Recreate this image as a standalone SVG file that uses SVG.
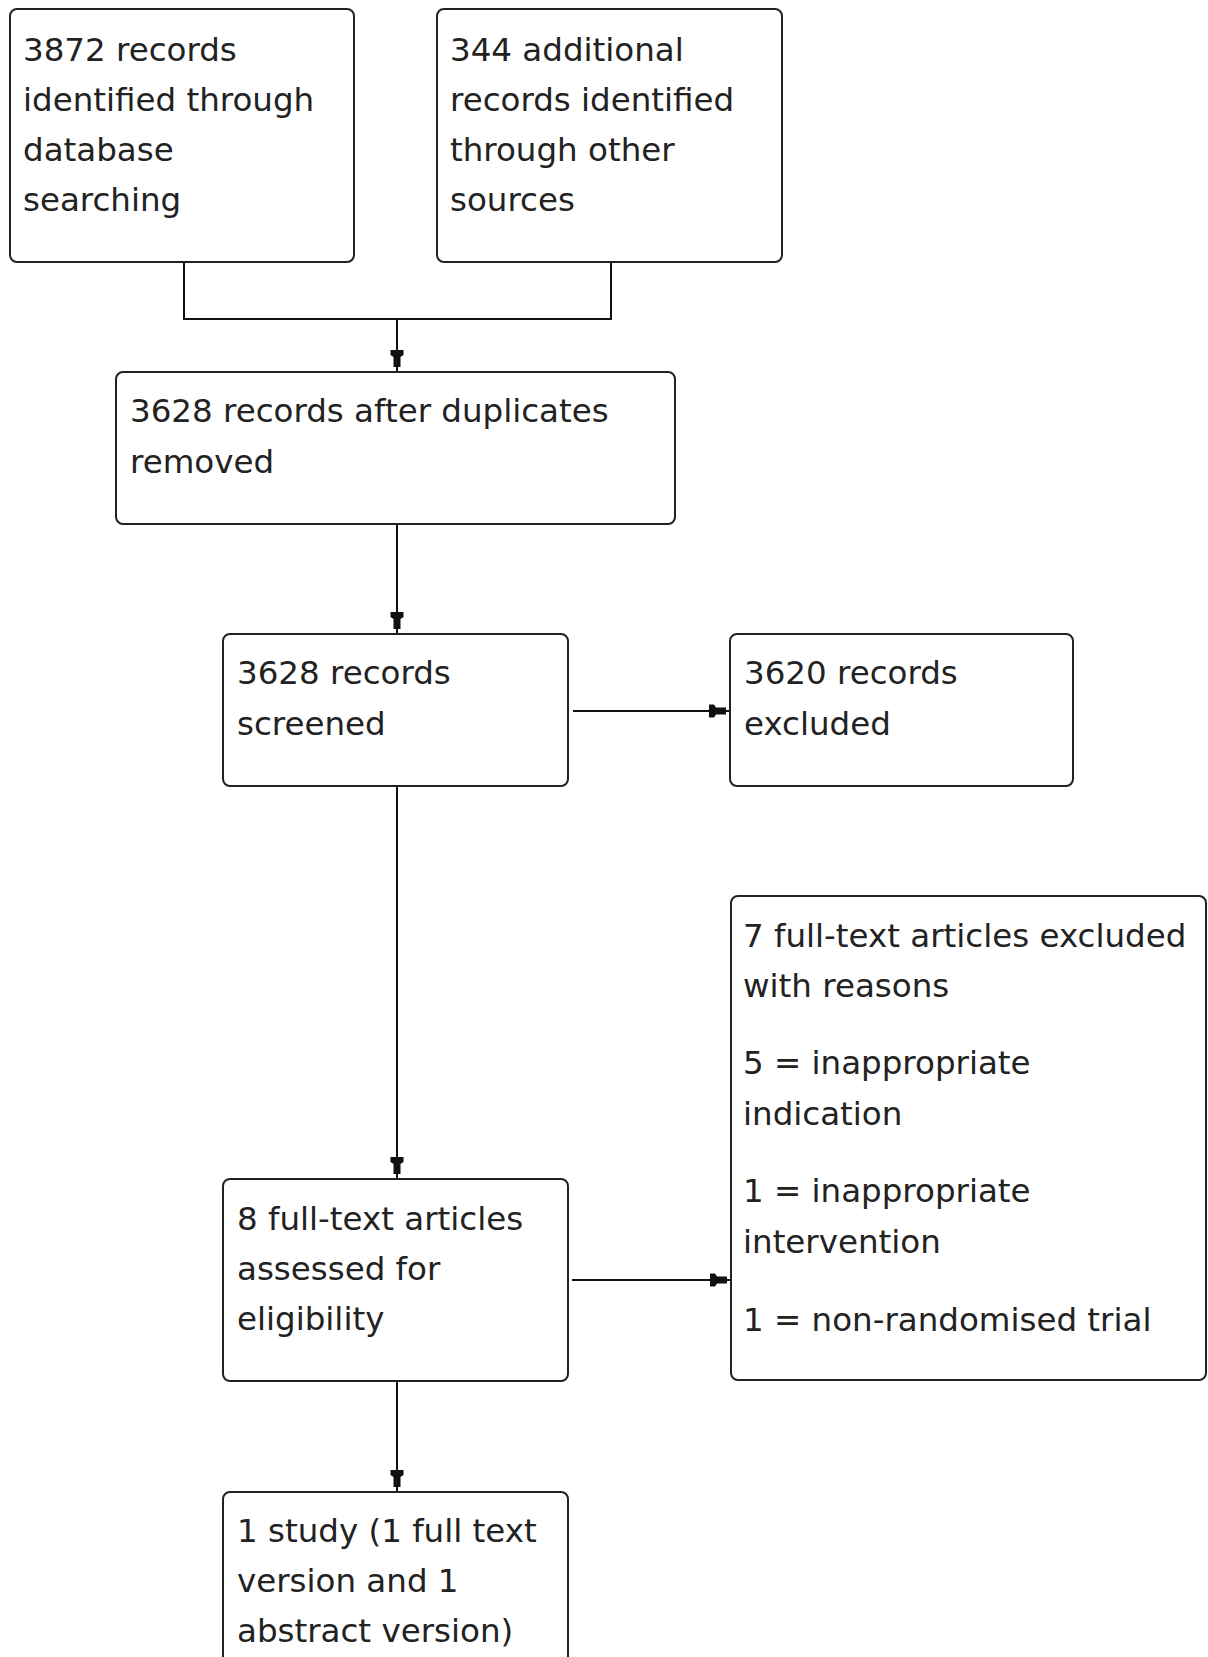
<svg xmlns="http://www.w3.org/2000/svg" width="1208" height="1657" viewBox="0 0 1208 1657">
<style>
.box{fill:#fff;stroke:#222;stroke-width:2}
.t{font-family:"DejaVu Sans","Noto Sans",sans-serif;font-size:32.5px;fill:#222}
.ln{fill:none;stroke:#111;stroke-width:2}
.ah{fill:#111}
</style>
<defs>
<path id="ah" d="M-6.5,-21 H6.5 V-16 L3.5,-14 V-4 H-3.5 V-14 L-6.5,-16 Z"/>
</defs>
<rect width="1208" height="1657" fill="#fff"/>
<g id="connectors">
<path class="ln" d="M184,262 V319 H611 V262 M397,319 V371"/>
<use href="#ah" class="ah" transform="translate(397,371)"/>
<path class="ln" d="M397,524 V633"/>
<use href="#ah" class="ah" transform="translate(397,633)"/>
<path class="ln" d="M573,711 H730"/>
<use href="#ah" class="ah" transform="translate(730,711) rotate(-90)"/>
<path class="ln" d="M397,786 V1178"/>
<use href="#ah" class="ah" transform="translate(397,1178)"/>
<path class="ln" d="M572,1280 H731"/>
<use href="#ah" class="ah" transform="translate(731,1280) rotate(-90)"/>
<path class="ln" d="M397,1381 V1491"/>
<use href="#ah" class="ah" transform="translate(397,1491)"/>
</g>
<g id="n1">
<rect class="box" x="10" y="9" width="344" height="253" rx="7"/>
<text class="t" x="23" y="61">3872 records</text>
<text class="t" x="23" y="111">identified through</text>
<text class="t" x="23" y="161">database</text>
<text class="t" x="23" y="211">searching</text>
</g>
<g id="n2">
<rect class="box" x="437" y="9" width="345" height="253" rx="7"/>
<text class="t" x="450" y="61">344 additional</text>
<text class="t" x="450" y="111">records identified</text>
<text class="t" x="450" y="161">through other</text>
<text class="t" x="450" y="211">sources</text>
</g>
<g id="n3">
<rect class="box" x="116" y="372" width="559" height="152" rx="7"/>
<text class="t" x="130" y="422">3628 records after duplicates</text>
<text class="t" x="130" y="473">removed</text>
</g>
<g id="n4">
<rect class="box" x="223" y="634" width="345" height="152" rx="7"/>
<text class="t" x="237" y="684">3628 records</text>
<text class="t" x="237" y="735">screened</text>
</g>
<g id="n5">
<rect class="box" x="730" y="634" width="343" height="152" rx="7"/>
<text class="t" x="744" y="684">3620 records</text>
<text class="t" x="744" y="735">excluded</text>
</g>
<g id="n6">
<rect class="box" x="731" y="896" width="475" height="484" rx="7"/>
<text class="t" x="743" y="947">7 full-text articles excluded</text>
<text class="t" x="743" y="997">with reasons</text>
<text class="t" x="743" y="1074">5 = inappropriate</text>
<text class="t" x="743" y="1125">indication</text>
<text class="t" x="743" y="1202">1 = inappropriate</text>
<text class="t" x="743" y="1253">intervention</text>
<text class="t" x="743" y="1331">1 = non-randomised trial</text>
</g>
<g id="n7">
<rect class="box" x="223" y="1179" width="345" height="202" rx="7"/>
<text class="t" x="237" y="1230">8 full-text articles</text>
<text class="t" x="237" y="1280">assessed for</text>
<text class="t" x="237" y="1330">eligibility</text>
</g>
<g id="n8">
<rect class="box" x="223" y="1492" width="345" height="200" rx="7"/>
<text class="t" x="237" y="1542">1 study (1 full text</text>
<text class="t" x="237" y="1592">version and 1</text>
<text class="t" x="237" y="1642">abstract version)</text>
</g>
</svg>
